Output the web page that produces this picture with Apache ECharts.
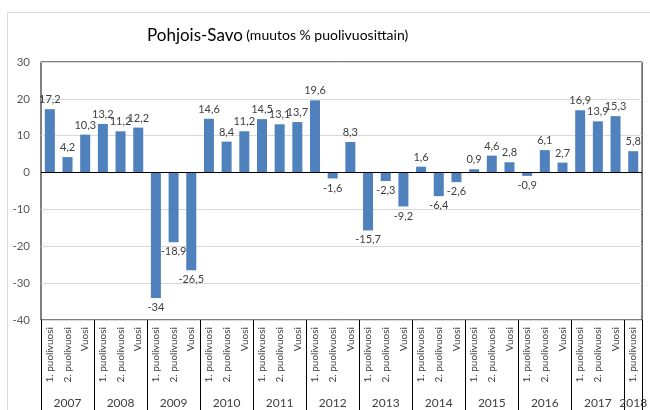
<!DOCTYPE html>
<html>
<head>
<meta charset="utf-8">
<script src="https://cdn.jsdelivr.net/npm/echarts@6/dist/echarts.min.js"></script>
<style>
  html, body { margin: 0; padding: 0; background: #fff; }
  #main { width: 650px; height: 410px; }
</style>
</head>
<body>
<div id="main"></div>
<script>
// vuodet ja jaksot
var years = ['2007', '2008', '2009', '2010', '2011', '2012', '2013', '2014', '2015', '2016', '2017', '2018'];
var periods = ['1. puolivuosi', '2. puolivuosi', 'Vuosi'];
// muutos % (2018 vain 1. puolivuosi)
var values = [
  17.2, 4.2, 10.3,
  13.2, 11.2, 12.2,
  -34, -18.9, -26.5,
  14.6, 8.4, 11.2,
  14.5, 13.1, 13.7,
  19.6, -1.6, 8.3,
  -15.7, -2.3, -9.2,
  1.6, -6.4, -2.6,
  0.9, 4.6, 2.8,
  -0.9, 6.1, 2.7,
  16.9, 13.9, 15.3,
  5.8
];
var yTicks = [-40, -30, -20, -10, 0, 10, 20, 30];

var cats = [];
var yearSlots = [];
years.forEach(function (y) {
  var n = (y === '2018') ? 1 : 3;
  for (var i = 0; i < n; i++) {
    cats.push(periods[i]);
    // vuoden nimi keskimmäisen jakson kohdalle
    yearSlots.push((n === 1 || i === 1) ? y : '');
  }
});

var barData = values.map(function (v) {
  return { value: v, label: { position: v < 0 ? 'bottom' : 'top' } };
});

var myChart = echarts.init(document.getElementById('main'));
var option = {
  animation: false,
  textStyle: { fontFamily: 'Lato' },
  graphic: [{
    type: 'rect',
    shape: { x: 7.5, y: 12.5, width: 700, height: 420 },
    style: { fill: 'none', stroke: '#d9d9d9', lineWidth: 1 },
    silent: true
  }, {
    type: 'text',
    left: 147, top: 27,
    style: {
      rich: {
        a: { fontSize: 17, fontFamily: 'Lato', fill: '#000' },
        b: { fontSize: 14, fontFamily: 'Lato', fill: '#000' }
      },
      text: '{a|Pohjois-Savo} {b|(muutos % puolivuosittain)}'
    }
  }],
  grid: {
    left: 41, right: -2, top: 62, bottom: 90,
    show: true, borderColor: '#000', borderWidth: 1, containLabel: false
  },
  xAxis: [{
    type: 'category',
    data: cats,
    position: 'bottom',
    axisLine: { show: false },
    axisTick: { show: false },
    axisLabel: {
      interval: 0, rotate: 90, margin: 7,
      fontSize: 10, color: '#404040'
    }
  }, {
    type: 'category',
    data: yearSlots,
    position: 'bottom',
    axisLine: { show: false },
    axisTick: {
      show: true, length: 90,
      interval: function (i) { return i % 3 === 0; },
      lineStyle: { color: '#000', width: 1 }
    },
    axisLabel: {
      interval: 0, margin: 77, fontSize: 12, color: '#404040',
      formatter: function (v) { return v; }
    }
  }],
  yAxis: {
    type: 'value',
    min: yTicks[0], max: yTicks[yTicks.length - 1], interval: 10,
    axisLine: { show: false },
    axisTick: { show: false },
    axisLabel: { fontSize: 11.5, color: '#595959', margin: 11 },
    splitLine: { lineStyle: { color: '#d9d9d9' } }
  },
  series: [{
    name: 'Pohjois-Savo',
    type: 'bar',
    xAxisIndex: 0,
    data: barData,
    barWidth: 10,
    itemStyle: { color: '#4f81bd' },
    label: {
      show: true, distance: 4, fontSize: 11, color: '#404040',
      formatter: function (p) { return String(p.value).replace('.', ','); }
    },
    markLine: {
      silent: true, symbol: 'none',
      label: { show: false },
      lineStyle: { color: '#000', type: 'solid', width: 1 },
      data: [{ yAxis: 0 }]
    }
  }]
};
myChart.setOption(option);
</script>
</body>
</html>
